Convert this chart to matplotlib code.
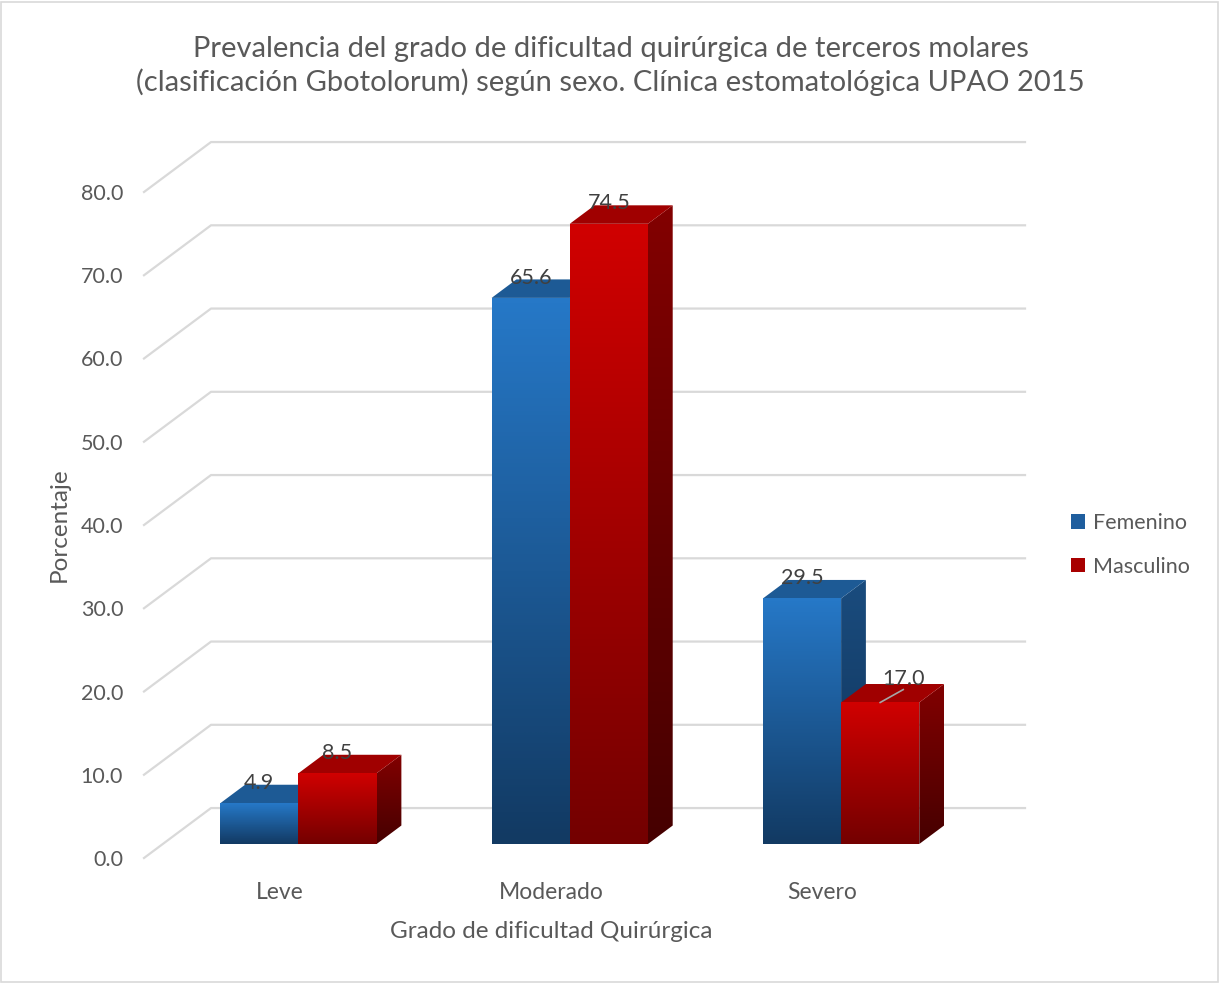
import numpy as np
import matplotlib.pyplot as plt
from matplotlib.patches import Polygon, Patch, Rectangle
from matplotlib.colors import LinearSegmentedColormap

# datos
categorias = ["Leve", "Moderado", "Severo"]
femenino = [4.9, 65.6, 29.5]
masculino = [8.5, 74.5, 17.0]
series = ["Femenino", "Masculino"]
yticks = [0, 10, 20, 30, 40, 50, 60, 70, 80]

plt.rcParams['font.family'] = ['Lato', 'DejaVu Sans']
gris = '#595959'

fig = plt.figure(figsize=(12.2, 9.83), dpi=100)
ax = fig.add_axes([144/1220, 125/983, 814/1220, 666/983])
ax.set_xlim(-0.5, 2.5)
ax.set_ylim(0, 80)
ax.autoscale(False)

# perspectiva (fondo de la pared)
DX, DY = 0.247, 6.0
f0 = 0.28     # plano frontal de las barras
prof = 0.37   # profundidad de la barra
ox, oy = DX * f0, DY * f0
px, py = DX * prof, DY * prof
ancho = 0.288

# rejilla
for t in yticks:
    ax.plot([-0.5, -0.5 + DX, 2.5 + DX], [t, t + DY, t + DY],
            color='#d9d9d9', lw=1.6, clip_on=False, zorder=1)

colores = {
    "Femenino": dict(front=('#2678c7', '#123a63'), top='#1d5a95', side=('#1a4c7e', '#0f3157')),
    "Masculino": dict(front=('#d00000', '#740000'), top='#a00000', side=('#820000', '#460000')),
}


def gradiente(poly, c1, c2, z):
    cmap = LinearSegmentedColormap.from_list('g', [c2, c1])
    xs, ys = poly[:, 0], poly[:, 1]
    im = ax.imshow(np.linspace(0, 1, 64).reshape(-1, 1), cmap=cmap, origin='lower',
                   extent=[xs.min(), xs.max(), ys.min(), ys.max()], aspect='auto',
                   zorder=z, interpolation='bilinear')
    p = Polygon(poly, closed=True, transform=ax.transData)
    im.set_clip_path(p)


def barra(x0, h, col, z):
    x1 = x0 + ancho
    b = oy
    frente = np.array([[x0 + ox, b], [x1 + ox, b], [x1 + ox, b + h], [x0 + ox, b + h]])
    lado = np.array([[x1 + ox, b], [x1 + ox + px, b + py], [x1 + ox + px, b + h + py], [x1 + ox, b + h]])
    arriba = np.array([[x0 + ox, b + h], [x1 + ox, b + h], [x1 + ox + px, b + h + py], [x0 + ox + px, b + h + py]])
    gradiente(lado, col['side'][0], col['side'][1], z)
    ax.add_patch(Polygon(arriba, closed=True, facecolor=col['top'], edgecolor='none', zorder=z))
    gradiente(frente, col['front'][0], col['front'][1], z + 0.1)


for i in range(len(categorias)):
    barra(i - ancho, femenino[i], colores["Femenino"], 2 + i)
    barra(i, masculino[i], colores["Masculino"], 2.5 + i)

# etiquetas de datos
for i in range(len(categorias)):
    for x0, v in [(i - ancho, femenino[i]), (i, masculino[i])]:
        xc = x0 + ancho / 2 + ox
        if i == 2 and x0 == i:
            ax.plot([xc, xc + 0.085], [v + oy, v + oy + 1.55], color='#a6a6a6', lw=1.2, zorder=10)
            ax.text(xc + 0.085, v + oy + 2.1, f"{v:.1f}", ha='center', va='baseline',
                    fontsize=15.5, color='#404040', zorder=10)
        else:
            ax.text(xc, v + oy + py - 0.5, f"{v:.1f}", ha='center', va='baseline',
                    fontsize=15.5, color='#404040', zorder=10)

ax.set_yticks(yticks)
ax.set_yticklabels([f"{t:.1f}" for t in yticks], fontsize=15.5, color=gris)
ax.set_xticks(range(len(categorias)))
ax.set_xticklabels(categorias, fontsize=16.5, color=gris)
ax.tick_params(axis='y', length=0, pad=15)
ax.tick_params(axis='x', length=0, pad=17)
for s in ax.spines.values():
    s.set_visible(False)

ax.set_ylabel("Porcentaje", fontsize=17.5, color=gris, labelpad=8)
ax.set_xlabel("Grado de dificultad Quirúrgica", fontsize=17.5, color=gris, labelpad=13)

fig.text(0.5 * (188 + 1033) / 1220, 1 - 66 / 983,
         "Prevalencia del grado de dificultad quirúrgica de terceros molares\n"
         "(clasificación Gbotolorum) según sexo. Clínica estomatológica UPAO 2015",
         ha='center', va='center', fontsize=21, color=gris, linespacing=1.28)

handles = [Patch(facecolor='#1f5e9e', edgecolor='none'), Patch(facecolor='#a80000', edgecolor='none')]
fig.legend(handles, series, loc='center left', bbox_to_anchor=(1052 / 1220, 1 - 545 / 983),
           frameon=False, fontsize=15.5, handlelength=0.65, handleheight=0.65,
           handletextpad=0.35, labelspacing=1.1, labelcolor=gris)

fig.patches.append(Rectangle((0.001, 0.001), 0.997, 0.997, transform=fig.transFigure,
                             fill=False, edgecolor='#d9d9d9', lw=1.2))

fig.savefig("out.png", dpi=100)
